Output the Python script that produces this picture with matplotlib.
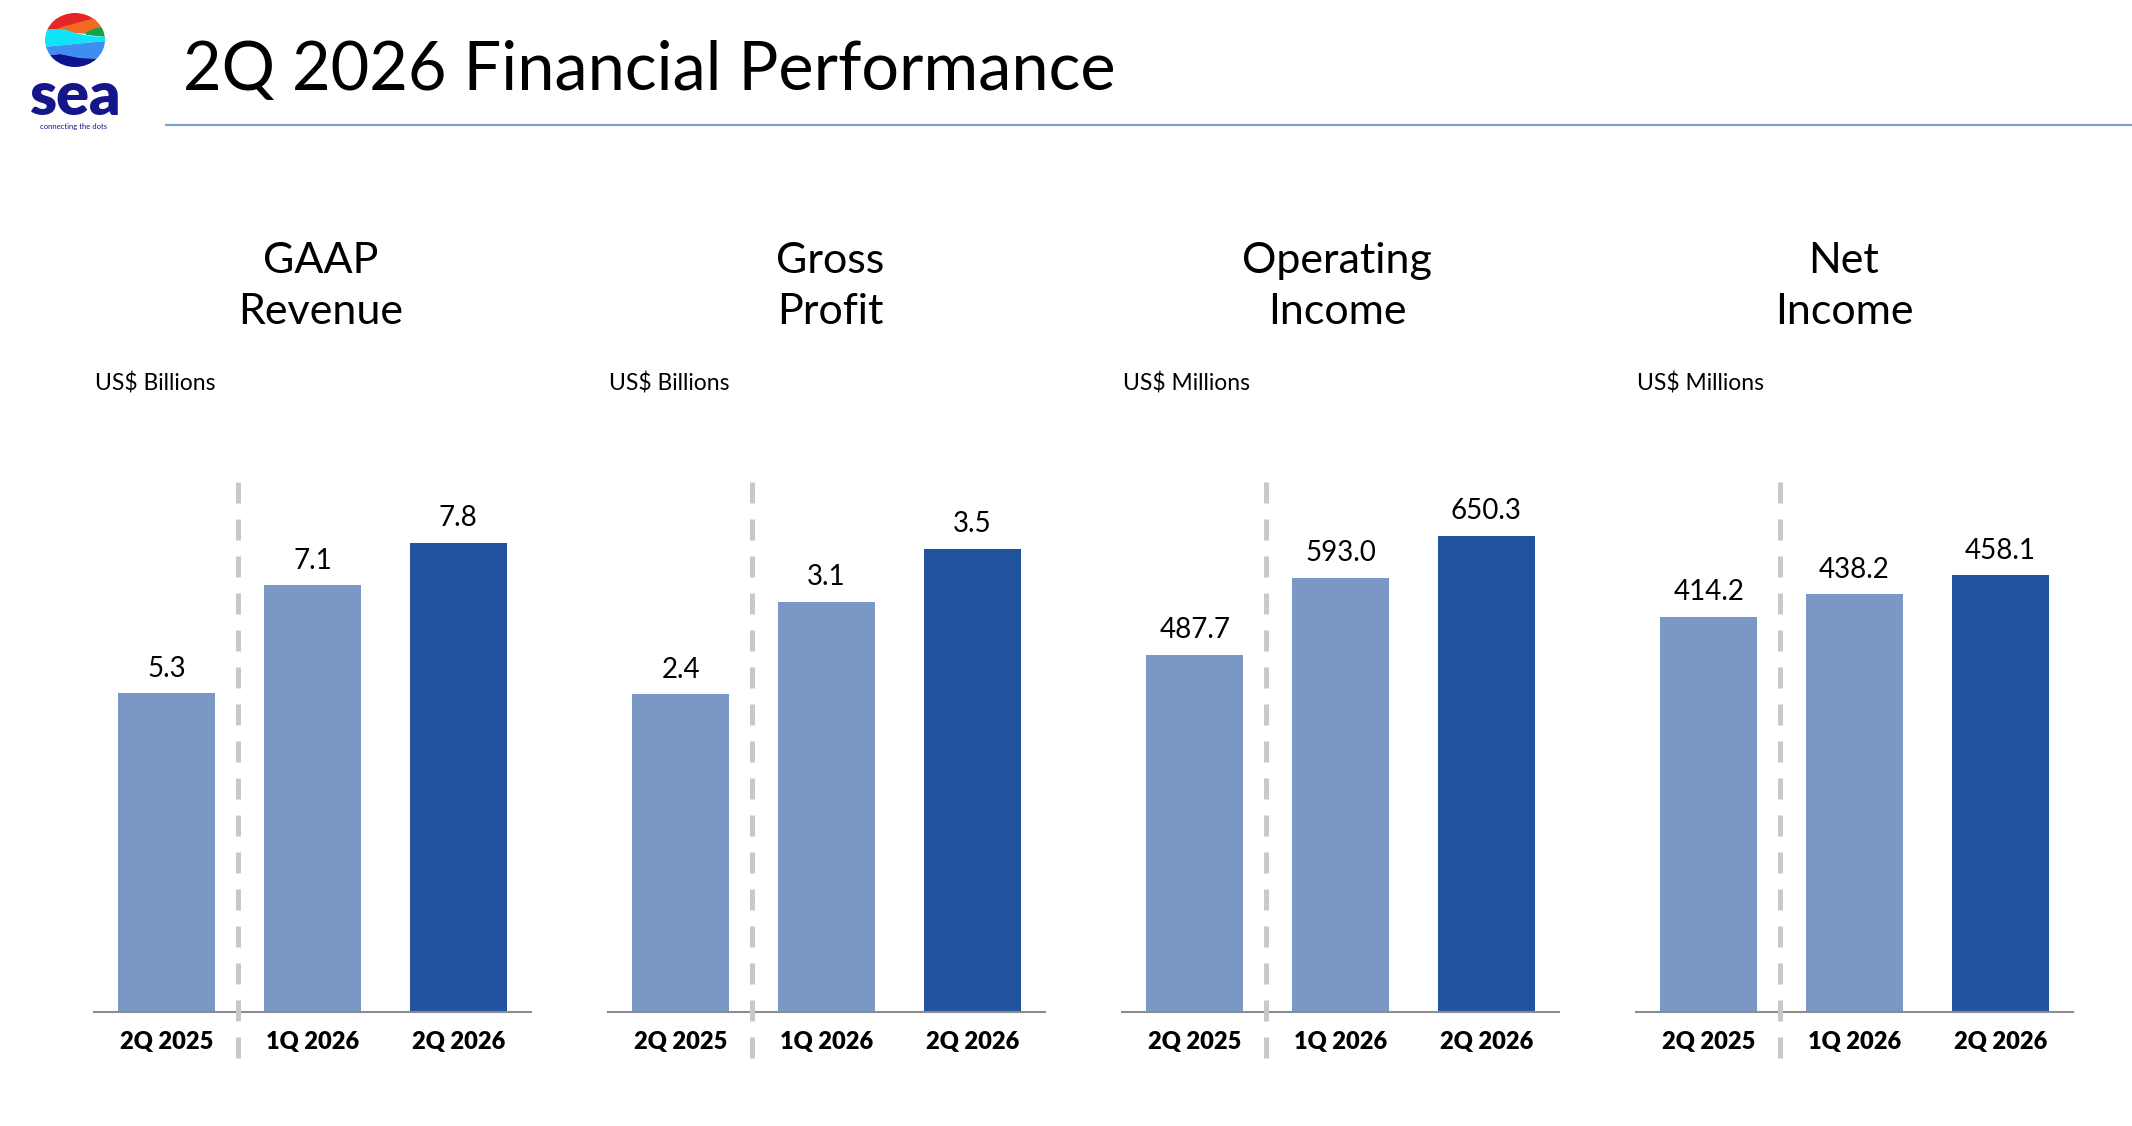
import matplotlib
matplotlib.use("Agg")
import matplotlib.pyplot as plt
from matplotlib.patches import Ellipse, Polygon
import numpy as np

plt.rcParams['font.family'] = ['Lato', 'DejaVu Sans']

# ---------------- data ----------------
categories = ["2Q 2025", "1Q 2026", "2Q 2026"]
titles = [("GAAP", "Revenue"), ("Gross", "Profit"), ("Operating", "Income"), ("Net", "Income")]
units = ["US$ Billions", "US$ Billions", "US$ Millions", "US$ Millions"]
revenue = [5.3, 7.1, 7.8]
gross_profit = [2.4, 3.1, 3.5]
operating_income = [487.7, 593.0, 650.3]
net_income = [414.2, 438.2, 458.1]
label_fmt = ["{:.1f}", "{:.1f}", "{:.1f}", "{:.1f}"]
series = [revenue, gross_profit, operating_income, net_income]

# ---------------- style ----------------
W, H = 2132, 1126
LIGHT = "#7A98C6"
DARK = "#2253A0"
bar_colors = [LIGHT, LIGHT, DARK]
ytops = [8.85, 4.02, 727, 558]   # axis upper limits per panel
title_cx = [321, 830, 1337, 1844]

fig = plt.figure(figsize=(W / 100, H / 100), dpi=100)
fig.patch.set_facecolor("white")

def fx(x):
    return x / W

def fy(y):
    return 1 - y / H

# ---------------- header ----------------
fig.text(fx(183), fy(90), "2Q 2026 Financial Performance", fontsize=48,
         color="black", ha="left", va="baseline")

hdr = fig.add_axes([0, 0, 1, 1], zorder=-1)
hdr.set_xlim(0, W)
hdr.set_ylim(H, 0)
hdr.axis("off")
hdr.plot([165, W], [125, 125], color="#7B9FD9", lw=1.5, solid_capstyle="butt")

# logo
cx, cy, rx, ry = 75, 40, 30, 27
clip = Ellipse((cx, cy), 2 * rx, 2 * ry, transform=hdr.transData, facecolor="none", edgecolor="none")
hdr.add_patch(clip)
L, R, T, B = cx - rx - 2, cx + rx + 2, cy - ry - 2, cy + ry + 2
bands = [
    ("#E52629", [(L, T), (R, T), (R, 20), (95, 21), (80, 25), (62, 29), (L, 30)]),
    ("#F26A21", [(R, 17), (95, 18), (80, 22), (62, 27), (55, 30), (75, 33), (88, 34), (R, 30)]),
    ("#13A14B", [(R, 27), (96, 28), (86, 32), (86, 35), (R, 37)]),
    ("#0FE3F8", [(L, 30), (55, 29), (65, 29.5), (75, 33), (90, 36), (R, 37), (R, 41), (85, 43), (65, 45), (L, 47)]),
    ("#3D8EF0", [(L, 47), (65, 45), (85, 43), (R, 41), (R, 59), (80, 58), (60, 54), (L, 56)]),
    ("#0B138F", [(L, 56), (60, 54), (80, 58), (R, 59), (R, B), (L, B)]),
]
for col, pts in bands:
    p = Polygon(pts, closed=True, facecolor=col, edgecolor="none")
    hdr.add_patch(p)
    p.set_clip_path(clip)

hdr.text(75, 115, "sea", fontsize=44, fontweight="heavy", color="#16168B",
         ha="center", va="baseline")
hdr.text(74, 129, "connecting the dots", fontsize=5.5, color="#16168B",
         ha="center", va="baseline")

# ---------------- panels ----------------
x = np.arange(len(categories))
ax_w, ax_h = 437, 532
base_y = 1012
for i, vals in enumerate(series):
    left = 94 + 514 * i
    ax = fig.add_axes([fx(left), fy(base_y), ax_w / W, ax_h / H])
    ax.bar(x, vals, width=0.667, color=bar_colors, zorder=2)
    ax.set_xlim(-0.5, 2.5)
    ax.set_ylim(0, ytops[i])
    for s in ["top", "right", "left"]:
        ax.spines[s].set_visible(False)
    ax.spines["bottom"].set_color("#8C8C8C")
    ax.spines["bottom"].set_linewidth(1.5)
    ax.set_yticks([])
    ax.set_xticks(x)
    ax.set_xticklabels(categories, fontsize=17, fontweight="heavy")
    ax.tick_params(axis="x", length=0, pad=14)
    ax.patch.set_alpha(0)
    for xi, v in zip(x, vals):
        ax.annotate(label_fmt[i].format(v), (xi, v), xytext=(0, 12),
                    textcoords="offset points", ha="center", va="baseline",
                    fontsize=20, color="black")
    # dashed separator
    trans = ax.get_xaxis_transform()
    ax.plot([0.49, 0.49], [0.997, -0.09], transform=trans, color="#C8C8C8",
            lw=3.6, linestyle=(0, (4.2, 3.2)), clip_on=False, zorder=3)
    # unit label
    fig.text(fx(left + 1), fy(391), units[i], fontsize=16.5, ha="left", va="baseline")
    # title
    fig.text(fx(title_cx[i]), fy(273), titles[i][0], fontsize=31, ha="center", va="baseline")
    fig.text(fx(title_cx[i]), fy(324), titles[i][1], fontsize=31, ha="center", va="baseline")

fig.savefig("out.png", dpi=100, facecolor="white")
